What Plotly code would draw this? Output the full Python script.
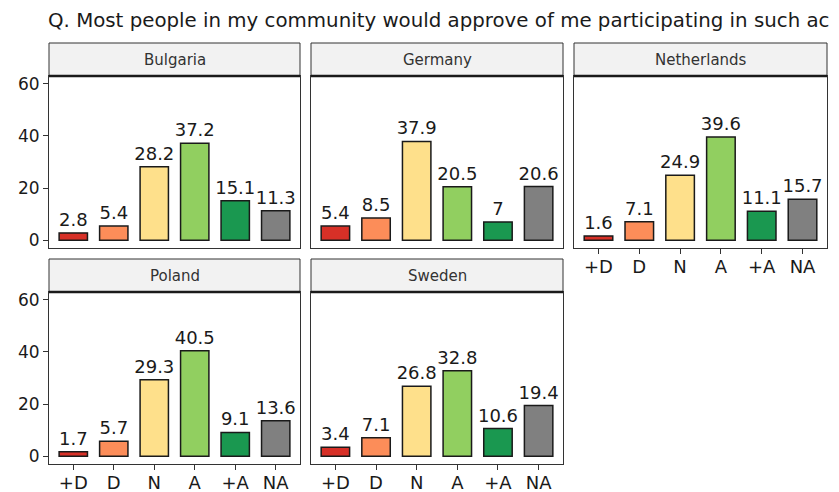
import plotly.graph_objects as go

categories = ["+D", "D", "N", "A", "+A", "NA"]
countries = ["Bulgaria", "Germany", "Netherlands", "Poland", "Sweden"]
bulgaria = [2.8, 5.4, 28.2, 37.2, 15.1, 11.3]
germany = [5.4, 8.5, 37.9, 20.5, 7, 20.6]
netherlands = [1.6, 7.1, 24.9, 39.6, 11.1, 15.7]
poland = [1.7, 5.7, 29.3, 40.5, 9.1, 13.6]
sweden = [3.4, 7.1, 26.8, 32.8, 10.6, 19.4]
bar_colors = ["#D73027", "#FC8D59", "#FEE08B", "#91CF60", "#1A9850", "#808080"]
y_ticks = [0, 20, 40, 60]
# the title is shown cut at the right edge in the reference
title_text = "Q. Most people in my community would approve of me participating in such ac"

series = [bulgaria, germany, netherlands, poland, sweden]

# the page body adds an 8px margin, so the figure is drawn 8px in from the top-left
OFF = 8
W, H = 839 - OFF, 492 - OFF
FONT = "DejaVu Sans"

# panel geometry in window pixels: (left, right), (strip_top, plot_top, plot_bottom)
cols_px = [(49, 300), (311, 563), (574, 827)]
rows_px = [(43, 76, 248), (259, 292, 464)]
positions = [(0, 0), (0, 1), (0, 2), (1, 0), (1, 1)]
show_x_labels = [False, False, True, True, True]


def fx(px):
    return (px - OFF) / W


def fy(py):
    return 1 - (py - OFF) / H


fig = go.Figure()
shapes = []
annotations = []

for i, (country, vals) in enumerate(zip(countries, series)):
    r, c = positions[i]
    xl, xr = cols_px[c]
    st, pt, pb = rows_px[r]
    n = "" if i == 0 else str(i + 1)
    fig.add_trace(go.Bar(
        x=categories, y=vals,
        marker=dict(color=bar_colors, line=dict(color="#1a1a1a", width=1.5)),
        width=0.7,
        text=[f"{v:g}" for v in vals],
        textposition="outside",
        constraintext="none",
        cliponaxis=False,
        textfont=dict(family=FONT, size=18, color="#1a1a1a"),
        xaxis="x" + n, yaxis="y" + n,
        showlegend=False,
        hoverinfo="skip",
    ))
    fig.layout["xaxis" + n] = dict(
        domain=[fx(xl), fx(xr)], anchor="y" + n, type="category",
        range=[-0.6, 5.6], showgrid=False, zeroline=False, automargin=False,
        showline=True, mirror=True, linecolor="#333333", linewidth=1,
        ticks="outside" if show_x_labels[i] else "", ticklen=5, tickcolor="#333333",
        ticklabelstandoff=-3,
        showticklabels=show_x_labels[i],
        tickfont=dict(family=FONT, size=18, color="#1a1a1a"),
    )
    fig.layout["yaxis" + n] = dict(
        domain=[fy(pb), fy(pt)], anchor="x" + n,
        range=[-3, 63], tickvals=y_ticks, showgrid=False, zeroline=False, automargin=False,
        showline=True, mirror=True, linecolor="#333333", linewidth=1,
        ticks="outside" if c == 0 else "", ticklen=5, tickcolor="#333333",
        showticklabels=(c == 0),
        tickfont=dict(family=FONT, size=17, color="#1a1a1a"),
    )
    shapes.append(dict(type="rect", xref="paper", yref="paper",
                       x0=fx(xl), x1=fx(xr), y0=fy(pt), y1=fy(st),
                       fillcolor="#F2F2F2", line=dict(color="#333333", width=1), layer="above"))
    shapes.append(dict(type="line", xref="paper", yref="paper",
                       x0=fx(xl), x1=fx(xr), y0=fy(pt), y1=fy(pt),
                       line=dict(color="#1a1a1a", width=2.5), layer="above"))
    annotations.append(dict(text=country, xref="paper", yref="paper",
                            x=fx((xl + xr) / 2), y=fy((st + pt) / 2),
                            xanchor="center", yanchor="middle", showarrow=False,
                            font=dict(family=FONT, size=15, color="#333333")))

fig.update_layout(
    width=W, height=H,
    margin=dict(l=0, r=0, t=0, b=0, autoexpand=False),
    paper_bgcolor="white", plot_bgcolor="white",
    shapes=shapes, annotations=annotations,
    title=dict(text=title_text, x=fx(48), xanchor="left", xref="paper",
               y=fy(20), yanchor="middle", yref="paper",
               font=dict(family=FONT, size=19.8, color="#1a1a1a")),
)

fig.write_html("out.html")
